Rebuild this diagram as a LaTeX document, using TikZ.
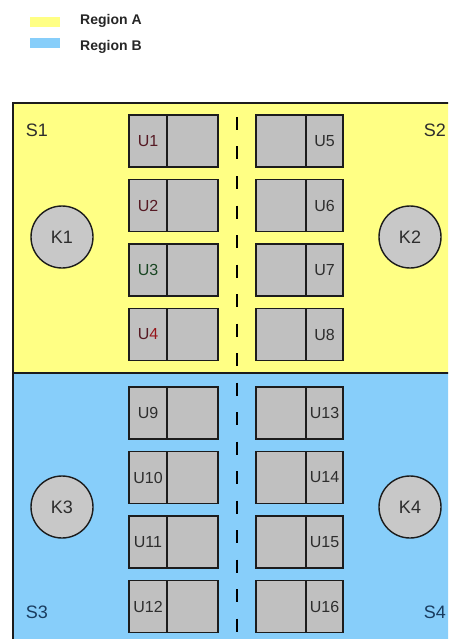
\documentclass[tikz,border=0pt]{standalone}
\usepackage{fontspec}
\setmainfont{Liberation Sans}
\usetikzlibrary{positioning}
\definecolor{regionyellow}{RGB}{255,255,132}
\definecolor{regionblue}{RGB}{135,206,250}
\definecolor{unitgrey}{RGB}{192,192,192}
\definecolor{coregrey}{RGB}{200,200,200}
\definecolor{edgegrey}{RGB}{28,28,28}
\definecolor{textgrey}{RGB}{45,45,45}
\definecolor{labelred}{RGB}{85,25,35}
\definecolor{digitred}{RGB}{150,20,25}
\definecolor{labelgreen}{RGB}{25,70,35}
\definecolor{sidebluetext}{RGB}{25,60,95}
\tikzset{
  swatch/.style={minimum width=30pt,minimum height=10pt,inner sep=0pt},
  legendtext/.style={font=\fontsize{14}{16}\selectfont\bfseries,text=black!85,inner sep=0pt},
  unitlabel/.style={draw=edgegrey,line width=1.6pt,fill=unitgrey,
    minimum width=38pt,minimum height=52pt,inner sep=0pt,outer sep=0pt,
    text=textgrey,font=\fontsize{16}{18}\selectfont},
  unitspare/.style={unitlabel,minimum width=51pt},
  core/.style={circle,draw=edgegrey,line width=1.4pt,fill=coregrey,
    minimum size=62pt,inner sep=0pt,text=textgrey,
    font=\fontsize{18}{20}\selectfont},
  sidelabel/.style={inner sep=0pt,text=textgrey,font=\fontsize{18}{20}\selectfont},
  regionedge/.style={draw=edgegrey,line width=1.3pt},
  divider/.style={draw=black,line width=1.8pt,dash pattern=on 13pt off 16.5pt,
    dash phase=-14pt}
}

\begin{document}
\begin{tikzpicture}[x=1pt,y=-1pt]
  \clip (0,0) rectangle (448,639);
  \fill[white] (0,0) rectangle (448,639);
  % legend
  \node[swatch,fill=regionyellow] (keya) at (45,22) {};
  \node[swatch,fill=regionblue] (keyb) at (45,43) {};
  \node[legendtext,anchor=base west] (texta) at (80,25) {Region A};
  \node[legendtext,anchor=base west] (textb) at (80,51) {Region B};
  % regions
  \fill[regionyellow] (13,103) rectangle (470,373);
  \fill[regionblue] (13,373) rectangle (470,660);
  \draw[regionedge] (13,660) -- (13,103) -- (470,103);
  \draw[regionedge] (13,373) -- (470,373);
  \draw[divider] (237,103) -- (237,660);
  % left units
  \node[unitlabel,text=labelred] (u1) at (148,141) {U1};
  \node[unitspare,right=0pt of u1] (u1x) {};
  \node[unitlabel,text=labelred,below=12.5pt of u1] (u2) {U2};
  \node[unitspare,right=0pt of u2] (u2x) {};
  \node[unitlabel,text=labelgreen,below=12.5pt of u2] (u3) {U3};
  \node[unitspare,right=0pt of u3] (u3x) {};
  \node[unitlabel,below=12.5pt of u3] (u4) {\textcolor{labelred}{U}\textcolor{digitred}{4}};
  \node[unitspare,right=0pt of u4] (u4x) {};
  \node[unitlabel] (u9) at (148,413) {U9};
  \node[unitspare,right=0pt of u9] (u9x) {};
  \node[unitlabel,below=12.5pt of u9] (u10) {U10};
  \node[unitspare,right=0pt of u10] (u10x) {};
  \node[unitlabel,below=12.5pt of u10] (u11) {U11};
  \node[unitspare,right=0pt of u11] (u11x) {};
  \node[unitlabel,below=12.5pt of u11] (u12) {U12};
  \node[unitspare,right=0pt of u12] (u12x) {};
  % right units
  \node[unitlabel,minimum width=37pt] (u5) at (324.5,141) {U5};
  \node[unitspare,minimum width=50pt,left=0pt of u5] (u5x) {};
  \node[unitlabel,minimum width=37pt,below=12.5pt of u5] (u6) {U6};
  \node[unitspare,minimum width=50pt,left=0pt of u6] (u6x) {};
  \node[unitlabel,minimum width=37pt,below=12.5pt of u6] (u7) {U7};
  \node[unitspare,minimum width=50pt,left=0pt of u7] (u7x) {};
  \node[unitlabel,minimum width=37pt,below=12.5pt of u7] (u8) {U8};
  \node[unitspare,minimum width=50pt,left=0pt of u8] (u8x) {};
  \node[unitlabel,minimum width=37pt] (u13) at (324.5,413) {U13};
  \node[unitspare,minimum width=50pt,left=0pt of u13] (u13x) {};
  \node[unitlabel,minimum width=37pt,below=12.5pt of u13] (u14) {U14};
  \node[unitspare,minimum width=50pt,left=0pt of u14] (u14x) {};
  \node[unitlabel,minimum width=37pt,below=12.5pt of u14] (u15) {U15};
  \node[unitspare,minimum width=50pt,left=0pt of u15] (u15x) {};
  \node[unitlabel,minimum width=37pt,below=12.5pt of u15] (u16) {U16};
  \node[unitspare,minimum width=50pt,left=0pt of u16] (u16x) {};
  % cores
  \node[core] (k1) at (62,237) {K1};
  \node[core] (k2) at (410,237) {K2};
  \node[core] (k3) at (62,507) {K3};
  \node[core] (k4) at (410,507) {K4};
  % side labels
  \node[sidelabel] (s1) at (37,130) {S1};
  \node[sidelabel,anchor=east] (s2) at (446,130) {S2};
  \node[sidelabel,text=sidebluetext] (s3) at (37,612) {S3};
  \node[sidelabel,text=sidebluetext,anchor=east] (s4) at (446,612) {S4};
\end{tikzpicture}
\end{document}
